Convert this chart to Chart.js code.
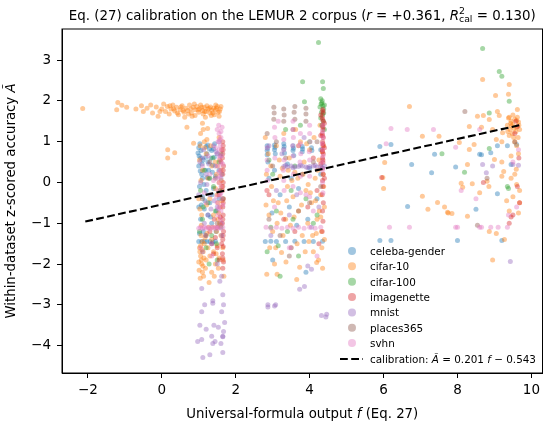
<!DOCTYPE html>
<html>
<head>
<meta charset="utf-8">
<script src="https://cdn.jsdelivr.net/npm/chart.js@4"></script>
<style>
  html, body { margin: 0; padding: 0; background: #fff; }
  #wrap { width: 550px; height: 422px; }
</style>
</head>
<body>
<div id="wrap"><canvas id="calib"></canvas></div>
<script>
// ---- data ----
const xTicks = [-2, 0, 2, 4, 6, 8, 10];
const yTicks = [-4, -3, -2, -1, 0, 1, 2, 3];
const seriesNames = ["celeba-gender", "cifar-10", "cifar-100", "imagenette", "mnist", "places365", "svhn"];

const celebaPts = [
  [1.0,0.85],[1.05,0.6],[1.0,0.4],[1.08,0.2],[1.02,-0.1],[1.1,-0.35],[1.0,-0.6],[1.05,-0.9],[1.12,-1.2],[1.0,-1.45],
  [1.08,-1.45],[1.15,-1.45],[1.22,-1.45],[1.3,-1.45],[1.38,-1.46],[1.45,-1.44],[1.2,0.88],[1.22,0.7],[1.25,0.5],[1.18,0.3],
  [1.28,0.1],[1.2,-0.2],[1.3,-0.5],[1.25,-0.8],[1.35,-1.0],[1.4,0.82],[1.42,0.62],[1.38,0.42],[1.45,0.15],[1.4,-0.15],
  [1.48,-0.7],[1.55,0.3],[1.55,-0.4],[0.98,0.72],[1.12,0.55],[1.35,0.78],[1.02,-1.25],[1.6,-1.0],[1.5,0.7],[1.15,-0.65],
  [1.03,0.95],[1.06,0.78],[1.1,0.1],[1.14,-0.05],[1.24,0.92],[1.27,0.3],[1.33,0.6],[1.36,-0.3],[1.43,0.95],[1.47,-1.2],
  [1.01,0.65],[1.04,0.28],[1.09,0.45],[1.19,0.62],[1.23,0.12],[1.29,0.82],[1.37,0.25],[1.17,-0.45],[1.07,-0.55],[1.32,-0.85],
  [2.85,0.9],[2.85,0.78],[2.85,0.68],[2.87,0.5],[3.05,0.92],[3.05,0.8],[3.07,0.7],[3.05,0.3],[3.3,0.95],[3.3,0.82],
  [3.32,0.72],[3.55,0.9],[3.55,0.78],[3.57,0.66],[3.8,0.88],[3.8,0.75],[4.05,0.85],[4.3,0.8],[2.9,0.1],[3.2,-0.3],
  [3.45,-0.6],[3.7,-0.15],[3.95,-0.9],[4.2,-0.4],[2.8,-1.45],[2.95,-1.44],[3.1,-1.45],[3.35,-1.45],[3.6,-1.44],[3.85,-1.45],
  [4.1,-1.45],[4.35,-1.44],[3.0,-1.9],[3.9,-2.2],[4.3,0.2],[3.4,0.45],[3.65,-1.05],[4.0,0.35],
  [2.86,0.84],[3.06,0.86],[3.31,0.88],[3.56,0.84],[3.81,0.82],[4.06,0.78],[2.98,-0.75],[3.5,0.1],
  [5.9,0.88],[6.2,0.93],[6.76,0.44],[7.3,0.24],[7.38,0.69],[6.65,-0.59],[7.95,0.38],[8.6,0.69],[8.9,0.73],[9.08,0.9],
  [9.35,0.9],[9.6,0.93],[9.45,0.44],[9.08,-0.28],[8.5,-0.66],[8.0,-1.42],[9.2,-1.42],[5.9,-1.42],[6.2,-1.42],[8.65,0.68]
];

const cifar10Pts = [
  [-2.14,1.81],[-1.19,1.96],[-1.08,1.89],[-1.22,1.78],[-0.95,1.84],[-0.7,1.8],[-0.55,1.88],[-0.5,1.74],[-0.4,1.82],[-0.3,1.9],
  [-0.25,1.7],[-0.15,1.85],[-0.1,1.62],[0.0,1.8],[0.05,1.92],[0.1,1.74],[0.15,1.86],[0.2,1.68],[0.25,1.8],[0.3,1.9],
  [0.35,1.75],[0.4,1.84],[0.45,1.66],[0.5,1.78],[0.55,1.88],[0.6,1.72],[0.65,1.82],[0.7,1.76],[0.75,1.9],[0.8,1.7],
  [0.85,1.84],[0.9,1.78],[0.95,1.86],[1.0,1.72],[1.02,1.8],[1.05,1.9],[1.1,1.76],[1.12,1.68],[1.15,1.84],[1.2,1.74],
  [1.22,1.88],[1.25,1.8],[1.3,1.7],[1.32,1.85],[1.35,1.76],[1.4,1.82],[1.42,1.66],[1.45,1.78],[1.5,1.86],[1.52,1.72],
  [1.55,1.62],[1.58,1.8],[0.62,1.6],[0.9,1.64],[1.18,1.6],
  [0.32,1.8],[0.42,1.7],[0.52,1.85],[0.72,1.68],[0.78,1.8],[0.88,1.92],[0.98,1.78],[1.08,1.84],[1.16,1.74],[1.28,1.82],
  [1.38,1.7],[1.48,1.82],[1.56,1.74],[1.6,1.86],[-0.05,1.74],[0.22,1.88],[0.58,1.76],[0.82,1.62],[1.34,1.64],[1.46,1.9],
  [0.16,0.8],[0.16,0.6],[0.35,0.73],[0.68,1.35],[0.86,0.96],[1.24,1.32],[1.22,1.05],[1.1,1.45],
  [1.02,-1.6],[1.05,-1.8],[1.08,-2.0],[1.1,-2.2],[1.04,-2.35],[1.12,-1.7],[1.0,-1.95],[1.15,-1.5],[1.06,-1.3],[1.2,-1.9],
  [1.18,-2.1],[1.25,-1.6],[1.3,-1.8],[1.35,-1.4],[1.4,-1.7],[1.45,-2.0],[1.5,-1.55],[1.55,-1.85],[1.6,-1.3],[1.65,-1.6],
  [1.48,-1.2],[1.52,-0.9],[1.58,-0.6],[1.5,-0.3],[1.55,0.0],[1.6,0.3],[1.45,0.5],[1.52,-0.5],[1.62,-0.1],[1.48,0.2],
  [1.4,-0.8],[1.3,-0.4],[1.25,0.1],[1.35,0.4],[1.2,0.7],[1.15,1.0],[1.05,1.2],[1.1,0.3],[1.0,-0.4],[1.08,-0.8],
  [1.62,0.8],[1.55,1.1],[1.68,-2.3],[1.42,-2.3],[1.28,-2.45],[1.6,-1.05],[1.38,-1.1],[1.22,-1.25],[1.57,0.55],[1.45,-0.15],
  [1.03,-1.7],[1.07,-1.9],[1.1,-1.45],[1.13,-2.3],[1.01,-2.15],[1.05,-1.55],[1.09,-1.65],[1.14,-1.85],[1.17,-1.35],[1.11,-2.05],
  [1.58,-0.2],[1.54,-0.75],[1.61,0.05],[1.5,0.4],[1.56,-1.0],[1.63,-0.45],[1.47,-1.75],[1.53,-2.1],[1.66,-1.9],[1.35,-2.2],
  [1.04,0.9],[1.02,0.55],[1.06,0.05],[1.03,-0.65],[1.07,-1.05],[1.12,1.3],[1.16,0.85],[1.21,-0.55],[1.27,-1.1],[1.32,0.9],
  [2.8,1.1],[2.85,-0.2],[2.9,-0.8],[2.84,-2.25],[2.95,0.4],[3.0,-1.2],[3.05,-2.0],[3.1,0.9],[3.15,-0.5],[3.2,0.15],
  [3.24,-1.72],[3.3,1.2],[3.35,-0.9],[3.4,-0.1],[3.45,0.6],[3.5,-1.6],[3.55,-0.35],[3.6,0.25],[3.65,-2.38],[3.7,-0.7],
  [3.73,-2.08],[3.75,1.0],[3.8,-1.3],[3.85,0.5],[3.9,-0.2],[3.95,-1.0],[4.0,0.8],[4.05,-0.5],[4.1,-1.7],[4.15,0.1],
  [4.19,-1.96],[4.2,-0.9],[4.25,0.55],[4.3,-0.3],[4.35,-2.1],[4.38,0.9],[4.32,-1.2],[4.4,-0.6],[4.28,1.4],[4.36,0.2],
  [2.88,0.7],[3.02,-0.45],[3.28,-1.3],[3.62,1.3],[3.98,-1.45],[4.12,1.1],
  [2.82,-0.55],[2.92,-1.6],[3.12,-1.0],[3.18,0.55],[3.38,-0.45],[3.48,-1.05],[3.58,-0.85],[3.68,0.1],[3.78,-0.55],[3.88,-1.7],
  [4.02,-0.25],[4.08,-1.3],[4.22,0.3],[4.26,-0.7],[4.33,-1.6],[4.38,-0.1],[3.22,-0.75],[3.42,0.3],[3.92,0.95],[4.16,-0.45],
  [2.83,0.2],[2.97,-0.1],[3.08,-1.6],[3.26,0.35],[3.36,-1.95],[3.52,0.05],[3.66,-1.5],[3.82,0.2],[3.96,-0.05],[4.18,-1.25],
  [4.3,-0.85],[4.34,0.75],[4.24,-1.9],[4.4,-1.4],[3.12,-2.25],
  [8.68,2.52],[9.4,2.4],[9.38,2.16],[9.03,2.13],[6.7,1.86],[9.62,1.79],[9.08,1.74],[9.13,1.64],[8.54,1.62],[8.7,1.64],
  [8.86,1.54],[8.32,1.37],[8.65,1.35],[8.95,1.3],[9.22,1.22],[9.05,1.05],[9.2,1.0],[7.5,1.13],[7.05,1.13],[8.05,0.98],
  [8.32,0.81],[8.45,0.93],[9.0,0.56],[9.2,0.5],[9.45,0.65],[9.59,0.32],[9.25,0.27],[8.27,0.44],[8.14,-0.12],[8.4,-0.03],
  [8.8,0.03],[8.85,-0.1],[9.2,0.15],[9.45,0.1],[9.6,-0.05],[9.68,-0.2],[9.68,-0.5],[9.5,-0.35],[9.33,-0.45],[9.4,-0.7],
  [9.65,-0.75],[7.65,-0.6],[7.75,-0.75],[7.85,-0.76],[8.27,-0.83],[8.86,-1.2],[9.05,-1.25],[9.27,-1.4],[8.95,-1.9],[6.03,0.49],
  [5.98,0.12],[6.0,-0.15],[7.05,-0.34],[7.46,-0.49],[7.73,-0.73],[8.6,-0.25],[8.1,-0.02],[7.2,-0.66],
  [9.4,1.6],[9.45,1.5],[9.5,1.42],[9.55,1.55],[9.6,1.35],[9.65,1.48],[9.42,1.3],[9.48,1.2],[9.52,1.1],[9.58,1.25],
  [9.62,1.6],[9.35,1.4],[9.68,1.3],[9.46,1.38],[9.55,1.0],[9.4,1.15],[9.64,1.1],[9.38,1.58],[9.5,1.65],[9.6,0.9],
  [9.65,0.7],[9.55,0.2],[9.44,1.45],[9.53,1.32],[9.6,1.52],[9.36,1.25],[9.66,1.4]
];

const cifar100Pts = [
  [1.05,-0.2],[1.1,-0.9],[1.15,0.3],[1.2,-1.6],[1.25,-0.5],[1.3,0.1],[1.35,-1.3],[1.4,-0.1],[1.45,-0.7],[1.5,-1.9],
  [1.55,0.5],[1.6,-1.1],[1.65,-0.4],[1.02,-1.2],[1.38,0.6],[1.48,-1.5],[1.62,0.2],[1.28,-2.0],[1.12,-0.6],[1.58,-0.2],
  [4.24,3.43],[4.35,2.47],[4.37,2.3],[3.81,2.47],[3.86,1.98],[4.3,2.05],[4.33,1.95],[4.36,1.88],[4.38,1.8],[4.32,1.72],
  [4.35,1.65],[4.4,1.9],[4.3,1.58],[4.37,1.5],[4.33,1.4],[4.4,1.3],[4.28,1.85],[3.35,1.3],[3.0,0.2],[3.1,-0.7],
  [3.4,-1.2],[3.6,0.4],[3.9,-0.4],[4.1,-1.0],[2.85,-1.7],[3.2,-2.3],[3.7,-1.8],[4.0,1.0],[2.9,0.55],[3.5,-0.2],
  [4.2,-0.8],[3.75,1.4],[2.95,-1.1],[4.34,2.0],[4.38,1.7],[4.31,1.92],[3.15,-1.55],[3.55,-0.9],
  [8.68,3.28],[9.13,2.72],[9.2,2.6],[9.4,1.99],[8.86,1.7],[8.86,0.83],[7.58,0.7],[8.19,0.25],[9.38,-0.15],[9.35,-0.1]
];

const imagenettePts = [
  [1.65,1.0],[1.66,0.8],[1.64,0.6],[1.67,0.4],[1.65,0.2],[1.66,0.0],[1.64,-0.2],[1.67,-0.4],[1.65,-0.6],[1.66,-0.8],
  [1.64,-1.0],[1.67,-1.2],[1.65,-1.4],[1.66,-1.57],[1.64,-1.75],[1.67,-1.95],[1.65,-2.1],[1.35,-1.5],[1.4,-1.75],[1.45,-1.35],
  [1.5,-1.6],[1.55,-1.9],[1.3,-1.2],[1.58,-0.85],[1.6,0.5],[1.55,-0.3],[1.62,-1.5],[1.5,-1.1],[1.42,-0.9],
  [1.66,0.9],[1.65,0.7],[1.66,0.3],[1.65,-0.1],[1.66,-0.5],[1.65,-0.9],[1.66,-1.3],[1.65,-1.85],
  [4.35,1.79],[4.36,1.7],[4.34,1.6],[4.37,1.5],[4.35,1.4],[4.36,1.3],[4.34,1.2],[4.37,1.1],[4.35,1.0],[4.36,0.9],
  [4.34,0.8],[4.37,0.7],[4.35,0.6],[4.36,0.49],[4.34,0.35],[4.37,0.2],[4.35,0.05],[4.36,-0.1],[4.34,-0.3],[4.37,-0.5],
  [4.35,-0.7],[4.36,-0.95],[4.34,-1.2],[4.3,1.65],[4.4,1.45],[4.3,1.15],[4.4,0.85],[4.3,0.45],[4.4,0.1],[4.2,-0.2],
  [4.1,0.6],[3.95,-0.6],[3.7,0.9],[3.3,-0.9],[2.9,-0.3],[4.25,-1.5],[3.6,-1.2],
  [4.36,1.75],[4.35,1.55],[4.36,1.35],[4.35,1.15],[4.36,0.95],[4.35,0.75],[4.36,0.55],
  [9.62,-0.1],[9.68,-0.5],[9.45,-0.85],[9.4,-1.0],[9.5,-0.8],[9.62,1.37],[9.58,1.5],[8.7,0.0],[9.55,1.2],[9.66,0.6],
  [5.95,0.12]
];

const mnistPts = [
  [1.08,-2.6],[1.16,-3.0],[1.08,-3.17],[1.03,-3.5],[0.97,-3.9],[1.11,-4.29],[1.3,-4.22],[1.35,-3.77],[1.41,-3.5],[1.44,-3.9],
  [1.65,-4.17],[1.65,-3.77],[1.7,-3.43],[1.62,-3.17],[1.67,-3.0],[1.65,-2.75],[1.57,-2.42],[1.62,-2.3],[1.38,-2.96],[1.53,-3.55],
  [1.2,-3.6],[1.67,-3.65],[1.6,-3.95],[1.38,-2.9],[1.65,-3.78],[1.38,-3.95],[1.08,-3.85],
  [1.1,0.6],[1.2,0.2],[1.3,-0.3],[1.4,0.9],[1.5,-0.6],[1.6,0.1],[1.15,-1.0],[1.45,0.4],[1.25,-0.8],[1.55,1.0],
  [1.05,0.0],[1.35,-1.5],[1.62,-1.3],[1.5,-2.0],[1.1,-1.7],[1.0,-0.3],[1.22,-0.05],[1.42,-0.45],[1.58,0.65],
  [1.13,0.8],[1.27,0.45],[1.33,-0.65],[1.47,0.75],[1.18,-1.3],[1.03,0.5],
  [3.3,0.39],[3.4,0.38],[3.5,0.4],[3.6,0.38],[3.7,0.39],[3.8,0.4],[3.9,0.38],[4.0,0.39],[4.1,0.4],[4.2,0.38],
  [4.3,0.39],[4.4,0.4],[3.35,0.42],[3.55,0.36],[3.75,0.42],[3.95,0.36],[4.15,0.42],[4.35,0.36],
  [2.87,-3.0],[2.87,-3.05],[3.08,-3.0],[3.05,-3.03],[3.73,-2.62],[3.86,-2.55],[4.32,-3.26],[4.44,-3.3],[4.05,-2.13],[3.95,-2.05],
  [4.46,-3.23],[2.9,0.9],[3.1,-0.2],[3.25,0.7],[3.45,-0.8],[3.65,-0.3],[3.85,1.1],[4.05,-1.1],[4.25,-0.6],[2.95,-1.3],
  [3.5,-1.6],
  [9.43,-1.94],[8.78,0.24],[8.95,0.4],[9.5,0.44],[9.65,0.42],[8.68,0.44]
];

const places365Pts = [
  [3.03,1.84],[3.3,1.8],[3.6,1.86],[3.9,1.82],[3.3,1.5],[3.03,1.55],[3.9,1.68],[2.85,1.2],[3.1,1.0],[3.35,0.6],
  [3.55,1.3],[3.8,0.2],[4.0,-0.5],[4.2,1.0],[2.9,-0.9],[3.2,-1.3],[3.7,-0.7],[4.3,-0.1],[3.45,-1.8],[4.1,0.5],
  [3.6,1.55],[3.0,0.4],[3.04,1.7],[3.31,1.65],[3.9,1.5],[3.58,1.72],
  [1.1,-0.4],[1.3,0.5],[1.5,-1.0],[1.6,0.7],[1.2,-1.3],[1.45,0.1],
  [8.2,1.74],[8.54,-1.05],[9.55,0.99],[8.8,0.1]
];

const svhnPts = [
  [1.5,1.3],[1.55,1.2],[1.6,1.1],[1.52,1.0],[1.58,0.9],[1.62,0.8],[1.5,0.7],[1.56,0.6],[1.6,0.5],[1.53,0.4],
  [1.58,0.3],[1.62,0.2],[1.5,0.1],[1.55,0.0],[1.6,-0.1],[1.52,-0.2],[1.58,-0.3],[1.62,-0.4],[1.5,-0.5],[1.55,-0.6],
  [1.6,-0.7],[1.52,-0.8],[1.58,-0.9],[1.62,-1.0],[1.45,0.85],[1.48,-0.35],[1.65,0.45],[1.65,-0.55],
  [1.54,1.4],[1.6,1.25],[1.57,1.05],[1.55,0.8],[1.61,0.65],[1.54,0.25],[1.6,-0.25],[1.53,-0.65],[1.57,0.15],[1.63,1.35],
  [1.0,-1.12],[1.05,-1.1],[1.1,-1.13],[1.15,-1.1],[1.2,-1.12],[1.25,-1.1],[1.3,-1.13],[1.35,-1.1],[1.4,-1.12],[1.45,-1.1],
  [1.5,-1.13],[1.55,-1.1],[1.6,-1.12],[1.65,-1.1],
  [1.1,0.4],[1.2,-0.5],[1.3,0.2],[1.05,-1.6],[1.35,-1.8],[1.25,0.65],[1.4,0.05],[1.15,-0.25],
  [2.85,0.55],[2.85,0.3],[2.86,0.05],[2.84,-0.2],[3.3,1.05],[3.3,0.8],[3.31,0.55],[3.29,0.3],[3.3,0.05],[3.55,1.3],
  [3.56,1.1],[3.54,0.9],[3.55,0.65],[3.56,0.2],[3.75,0.95],[3.76,0.7],[3.74,0.5],[3.75,0.15],[4.0,1.2],[4.01,1.0],
  [3.99,0.75],[4.0,0.55],[4.0,0.15],[4.35,1.25],[4.36,1.1],[4.34,0.95],[4.35,0.8],[4.36,0.65],[4.34,0.5],[4.35,0.3],
  [3.05,1.35],[3.06,1.1],[3.55,1.5],[4.0,1.4],[4.35,1.4],[3.75,1.2],[2.85,0.85],
  [3.31,-0.2],[3.55,-0.1],[3.75,-0.25],[4.0,-0.35],[4.35,0.0],[4.36,-0.25],[3.06,0.6],
  [2.82,-1.1],[2.95,-1.12],[3.1,-1.1],[3.25,-1.12],[3.4,-1.1],[3.55,-1.12],[3.7,-1.1],[3.85,-1.12],[4.0,-1.1],[4.15,-1.12],
  [4.3,-1.1],
  [3.05,-0.6],[3.45,-1.6],[3.9,-0.3],[4.2,-1.8],[3.15,1.5],[4.1,-0.7],
  [6.2,1.32],[6.64,1.3],[7.35,1.3],[6.07,0.95],[7.95,0.86],[8.1,-0.2],[8.5,-0.4],[8.65,-1.1],[7.95,-1.1],[9.38,-0.8],
  [9.6,-0.6],[9.5,0.5],[9.65,0.8],[6.16,-1.1],[6.7,-1.1],[8.0,-1.1],[8.6,-1.1],[8.9,-1.1],[9.1,-1.1],[9.35,-1.1],
  [8.6,1.3]
];

// calibration line end points
const calX = [-2.07, 9.67];
const calY = [-0.959, 1.401];

// ---- styling ----
const FONT = "DejaVu Sans";
const seriesColors = [
  [31,119,180], [255,127,14], [44,160,44], [214,39,40],
  [148,103,189], [140,86,75], [227,119,194]
];
const ALPHA = 0.42;
const rgba = (c, a) => `rgba(${c[0]},${c[1]},${c[2]},${a})`;

const allPts = [celebaPts, cifar10Pts, cifar100Pts, imagenettePts, mnistPts, places365Pts, svhnPts];

const datasets = allPts.map((pts, i) => ({
  type: "scatter",
  label: seriesNames[i],
  data: pts.map(p => ({ x: p[0], y: p[1] })),
  backgroundColor: rgba(seriesColors[i], ALPHA),
  borderWidth: 0,
  pointRadius: 2.5,
  order: 7 - i + 1
}));

datasets.push({
  type: "line",
  label: "calibration",
  data: calX.map((x, i) => ({ x: x, y: calY[i] })),
  borderColor: "#000",
  borderWidth: 2.1,
  borderDash: [7.8, 3.4],
  pointRadius: 0,
  fill: false,
  order: 0
});

// draw a sequence of text runs (mixed italics, sub/superscripts)
function runWidth(ctx, r, size) {
  if (r.sup !== undefined) {
    ctx.font = `${size * 0.7}px "${FONT}"`;
    return Math.max(ctx.measureText(r.sup).width, ctx.measureText(r.sub).width);
  }
  ctx.font = `${r.it ? "italic " : ""}${size}px "${FONT}"`;
  return ctx.measureText(r.t).width;
}

function drawRuns(ctx, runs, x, y, size, align) {
  let total = 0;
  for (const r of runs) total += runWidth(ctx, r, size);
  let cx = align === "center" ? x - total / 2 : x;
  ctx.textBaseline = "alphabetic";
  ctx.textAlign = "left";
  ctx.fillStyle = "#000";
  for (const r of runs) {
    const w = runWidth(ctx, r, size);
    if (r.sup !== undefined) {
      ctx.font = `${size * 0.7}px "${FONT}"`;
      ctx.fillText(r.sup, cx, y - size * 0.42);
      ctx.fillText(r.sub, cx, y + size * 0.22);
    } else {
      ctx.font = `${r.it ? "italic " : ""}${size}px "${FONT}"`;
      ctx.fillText(r.t, cx, y);
    }
    cx += w;
  }
}

const titleRuns = [
  { t: "Eq. (27) calibration on the LEMUR 2 corpus (" },
  { t: "r", it: true },
  { t: " = +0.361, " },
  { t: "R", it: true },
  { sup: "2", sub: "cal" },
  { t: " = 0.130)" }
];
const xLabelRuns = [{ t: "Universal-formula output " }, { t: "f", it: true }, { t: " (Eq. 27)" }];
const yLabelRuns = [{ t: "Within-dataset z-scored accuracy " }, { t: "Ã", it: true }];
const calLabelRuns = [
  { t: "calibration: " }, { t: "Ã", it: true }, { t: " = 0.201 " },
  { t: "f", it: true }, { t: " − 0.543" }
];

const decorPlugin = {
  id: "decor",
  afterDraw(chart) {
    const ctx = chart.ctx;
    const a = chart.chartArea;
    ctx.save();
    // frame
    ctx.strokeStyle = "#000";
    ctx.lineWidth = 1;
    ctx.strokeRect(a.left, a.top, a.right - a.left, a.bottom - a.top);

    // title and axis labels
    drawRuns(ctx, titleRuns, (a.left + a.right) / 2, 19.5, 13.4, "center");
    drawRuns(ctx, xLabelRuns, (a.left + a.right) / 2, 418, 13.3, "center");
    ctx.save();
    ctx.translate(15, (a.top + a.bottom) / 2);
    ctx.rotate(-Math.PI / 2);
    drawRuns(ctx, yLabelRuns, 0, 0, 13.3, "center");
    ctx.restore();

    // legend (no frame)
    const lx = 352, tx = 370, y0 = 251, dy = 15.35, fs = 10.4;
    seriesNames.forEach((name, i) => {
      const yy = y0 + i * dy;
      ctx.beginPath();
      ctx.arc(lx, yy, 4, 0, Math.PI * 2);
      ctx.fillStyle = rgba(seriesColors[i], ALPHA);
      ctx.fill();
      drawRuns(ctx, [{ t: name }], tx, yy + 3.8, fs, "left");
    });
    const yc = y0 + 7 * dy + 0.5;
    ctx.beginPath();
    ctx.setLineDash([7.8, 3.4]);
    ctx.lineWidth = 2.1;
    ctx.strokeStyle = "#000";
    ctx.moveTo(340, yc);
    ctx.lineTo(363, yc);
    ctx.stroke();
    ctx.setLineDash([]);
    drawRuns(ctx, calLabelRuns, tx, yc + 3.8, fs, "left");
    ctx.restore();
  }
};

const minusFmt = v => String(v).replace("-", "\u2212");

new Chart(document.getElementById("calib"), {
  data: { datasets: datasets },
  options: {
    responsive: true,
    maintainAspectRatio: false,
    animation: false,
    devicePixelRatio: 1,
    layout: { padding: { left: 0, right: 7.5, top: 29, bottom: 0 } },
    plugins: { legend: { display: false }, tooltip: { enabled: false } },
    scales: {
      x: {
        type: "linear",
        min: -2.7,
        max: 10.3,
        afterBuildTicks: s => { s.ticks = xTicks.map(v => ({ value: v })); },
        afterFit: s => { s.height = 49; },
        grid: { drawOnChartArea: false, drawTicks: true, tickLength: 5, color: "#000" },
        border: { display: true, color: "#000", width: 1 },
        ticks: { color: "#000", padding: 4, maxRotation: 0, autoSkip: false,
                 font: { family: FONT, size: 13.5 }, callback: minusFmt }
      },
      y: {
        type: "linear",
        min: -4.67,
        max: 3.76,
        afterBuildTicks: s => { s.ticks = yTicks.map(v => ({ value: v })); },
        afterFit: s => { s.width = 62; },
        grid: { drawOnChartArea: false, drawTicks: true, tickLength: 5, color: "#000" },
        border: { display: true, color: "#000", width: 1 },
        ticks: { color: "#000", padding: 6, autoSkip: false,
                 font: { family: FONT, size: 13.5 }, callback: minusFmt }
      }
    }
  },
  plugins: [decorPlugin]
});
</script>
</body>
</html>
